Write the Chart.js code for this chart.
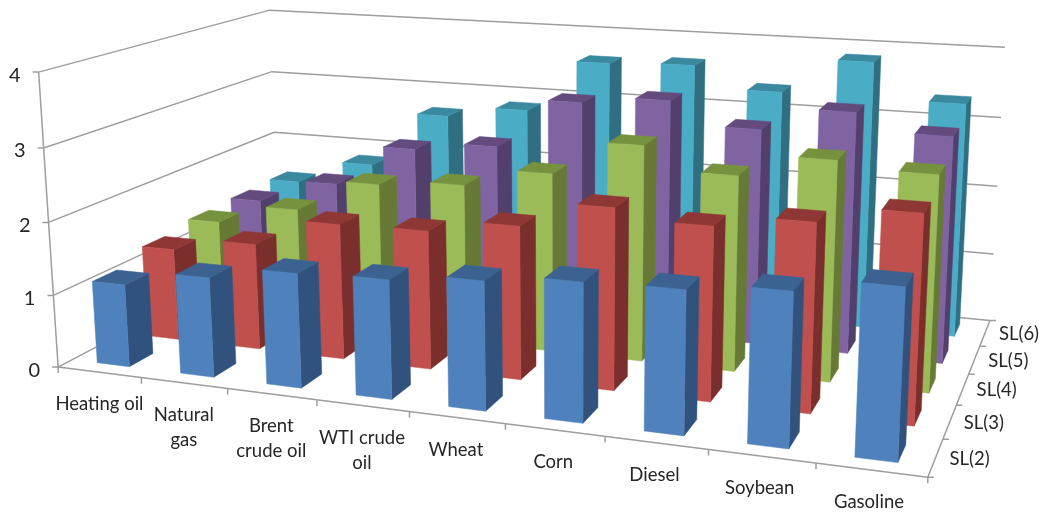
<!DOCTYPE html>
<html>
<head>
<meta charset="utf-8">
<style>html,body{margin:0;padding:0;background:#fff}canvas{display:block}</style>
<script src="https://cdn.jsdelivr.net/npm/chart.js@4/dist/chart.umd.js"></script>
</head>
<body>
<canvas id="c" width="1046" height="515"></canvas>
<script>
// Shortfall levels by commodity
const categories = ["Heating oil", ["Natural", "gas"], ["Brent", "crude oil"], ["WTI crude", "oil"], "Wheat", "Corn", "Diesel", "Soybean", "Gasoline"];
const seriesNames = ["SL(2)", "SL(3)", "SL(4)", "SL(5)", "SL(6)"];
const sl2 = [1.14, 1.36, 1.54, 1.58, 1.69, 1.80, 1.83, 1.94, 2.12];
const sl3 = [1.30, 1.49, 1.88, 1.90, 2.08, 2.43, 2.30, 2.46, 2.68];
const sl4 = [1.39, 1.68, 2.15, 2.24, 2.50, 2.98, 2.67, 2.97, 2.88];
const sl5 = [1.42, 1.78, 2.40, 2.53, 3.25, 3.36, 3.04, 3.36, 3.12];
const sl6 = [1.44, 1.81, 2.66, 2.83, 3.61, 3.65, 3.34, 3.84, 3.33];
const seriesValues = [sl2, sl3, sl4, sl5, sl6];

// Front, side and top shades for each series
const shades = [
  ["#4F81BD", "#30527C", "#3B6291"],
  ["#C0504D", "#7B2F2D", "#8F3735"],
  ["#9BBB59", "#667A36", "#76923F"],
  ["#8064A2", "#533F6B", "#634B7E"],
  ["#4BACC6", "#306F82", "#3A899E"]
];

const BAR_WIDTH = 0.39, BAR_DEPTH = 0.47;
const LINE = "#9E9E9E", TEXT = "#262626", FONT = "Lato, Carlito, sans-serif";

// Reference points of the plot box: [category, series, value] -> [x, y]
const boxAnchors = [
  [[0,0,0],[59,366]], [[9,0,0],[926,478]], [[9,5,0],[989,320]], [[0,5,0],[278,252]],
  [[0,0,4],[38,72]], [[0,5,4],[270,10]], [[9,5,4],[1006,48]],
  [[0,0,1],[53,294]], [[0,0,2],[49,222]], [[0,0,3],[44,148]],
  [[9,5,1],[992,254]], [[9,5,2],[996,187]], [[9,5,3],[1001,118]],
  [[0,5,2],[274,132]], [[0,5,3],[272,71]],
  [[1,0,0],[142,378]], [[2,0,0],[228,390]], [[3,0,0],[316,402]], [[8,0,0],[813,463]],
  [[9,1,0],[944,439]], [[9,2,0],[959,405]], [[9,3,0],[971,373]], [[9,4,0],[981,345]]
];

// Least-squares perspective camera through the box reference points
function solveCamera(anchors) {
  const n = 11, A = Array.from({length: n}, () => new Array(n + 1).fill(0));
  const add = (row, rhs) => {
    for (let i = 0; i < n; i++) {
      for (let j = 0; j < n; j++) A[i][j] += row[i] * row[j];
      A[i][n] += row[i] * rhs;
    }
  };
  for (const [[u, v, w], [x, y]] of anchors) {
    const X = u / 9, Y = v / 5, Z = w / 4, px = x / 1000, py = y / 1000;
    add([X, Y, Z, 1, 0, 0, 0, 0, -px * X, -px * Y, -px * Z], px);
    add([0, 0, 0, 0, X, Y, Z, 1, -py * X, -py * Y, -py * Z], py);
  }
  for (let c = 0; c < n; c++) {
    let p = c;
    for (let r = c + 1; r < n; r++) if (Math.abs(A[r][c]) > Math.abs(A[p][c])) p = r;
    [A[c], A[p]] = [A[p], A[c]];
    for (let r = 0; r < n; r++) {
      if (r === c) continue;
      const f = A[r][c] / A[c][c];
      for (let k = c; k <= n; k++) A[r][k] -= f * A[c][k];
    }
  }
  return A.map((row, i) => row[n] / row[i]);
}
const cam = solveCamera(boxAnchors);
function project(u, v, w) {
  const X = u / 9, Y = v / 5, Z = w / 4;
  const d = cam[8] * X + cam[9] * Y + cam[10] * Z + 1;
  return [1000 * (cam[0] * X + cam[1] * Y + cam[2] * Z + cam[3]) / d,
          1000 * (cam[4] * X + cam[5] * Y + cam[6] * Z + cam[7]) / d];
}

// One column: three visible faces, already projected
class Column3D extends Chart.Element {
  static id = "column3d";
  static defaults = {};
  draw(ctx) {
    const faces = [[this.side, this.colors[1]], [this.top, this.colors[2]], [this.front, this.colors[0]]];
    for (const [pts, color] of faces) {
      ctx.beginPath();
      pts.forEach((p, i) => i ? ctx.lineTo(p[0], p[1]) : ctx.moveTo(p[0], p[1]));
      ctx.closePath();
      ctx.fillStyle = color;
      ctx.strokeStyle = color;
      ctx.lineWidth = 0.5;
      ctx.fill();
      ctx.stroke();
    }
  }
}

// Maps category / series / value scales onto the box and builds the columns
class Bar3DController extends Chart.DatasetController {
  static id = "bar3d";
  static defaults = {dataElementType: "column3d", datasetElementType: null};
  update(mode) {
    const meta = this._cachedMeta;
    this.updateElements(meta.data, 0, meta.data.length, mode);
  }
  updateElements(columns, start, count, mode) {
    const meta = this._cachedMeta, xs = meta.iScale, ys = meta.vScale, zs = this.chart.scales.series;
    const n = xs.getLabels().length, m = zs.getLabels().length;
    const v = (zs.getPixelForValue(this.index) - zs.left) / zs.width * m;
    const v0 = v - BAR_DEPTH / 2, v1 = v + BAR_DEPTH / 2;
    for (let i = start; i < start + count; i++) {
      const parsed = this.getParsed(i);
      const u = (xs.getPixelForValue(parsed.x) - xs.left) / xs.width * n;
      const w = (ys.bottom - ys.getPixelForValue(parsed.y)) / ys.height * ys.max;
      const u0 = u - BAR_WIDTH / 2, u1 = u + BAR_WIDTH / 2;
      this.updateElement(columns[i], i, {
        x: project(u, v0, w)[0],
        y: project(u, v0, w)[1],
        colors: shades[this.index],
        front: [project(u0, v0, 0), project(u1, v0, 0), project(u1, v0, w), project(u0, v0, w)],
        side: [project(u1, v0, 0), project(u1, v1, 0), project(u1, v1, w), project(u1, v0, w)],
        top: [project(u0, v0, w), project(u1, v0, w), project(u1, v1, w), project(u0, v1, w)]
      }, mode);
    }
  }
}
Chart.register(Column3D, Bar3DController);

function segment(ctx, a, b) {
  ctx.moveTo(a[0], a[1]);
  ctx.lineTo(b[0], b[1]);
}

// Walls, floor edges, ticks and all axis text
const boxFrame = {
  id: "boxFrame",
  beforeDatasetsDraw(chart) {
    const ctx = chart.ctx, nu = chart.scales.x.getLabels().length, nv = chart.scales.series.getLabels().length;
    ctx.save();
    ctx.strokeStyle = LINE;
    ctx.lineWidth = 1.5;
    ctx.beginPath();
    for (const tick of chart.scales.y.ticks) {
      const a = project(0, 0, tick.value), b = project(0, nv, tick.value), c = project(nu, nv, tick.value);
      segment(ctx, a, b);
      segment(ctx, b, c);
      segment(ctx, a, [a[0] - 6, a[1]]);
    }
    segment(ctx, project(0, 0, 0), project(0, 0, chart.scales.y.max));
    segment(ctx, project(0, 0, 0), project(nu, 0, 0));
    segment(ctx, project(nu, 0, 0), project(nu, nv, 0));
    for (let i = 0; i <= nu; i++) {
      const p = project(i, 0, 0);
      segment(ctx, p, [p[0], p[1] + 6]);
    }
    for (let i = 0; i <= nv; i++) {
      const p = project(nu, i, 0);
      segment(ctx, p, [p[0] + 6, p[1]]);
    }
    ctx.stroke();
    ctx.restore();
  },
  afterDatasetsDraw(chart) {
    const ctx = chart.ctx, xLabels = chart.scales.x.getLabels(), zLabels = chart.scales.series.getLabels();
    const nu = xLabels.length;
    ctx.save();
    ctx.fillStyle = TEXT;
    ctx.textBaseline = "middle";
    ctx.textAlign = "center";
    ctx.font = "18.5px " + FONT;
    xLabels.forEach((label, i) => {
      const p = project(i + 0.5, 0, 0);
      const lines = Array.isArray(label) ? label : [label];
      lines.forEach((text, k) => ctx.fillText(text, p[0] - 0.3 * i, p[1] + 32 + k * 25));
    });
    zLabels.forEach((label, i) => {
      const p = project(nu, i + 0.5, 0);
      ctx.fillText(label, p[0] + 34, p[1] + 1);
    });
    ctx.textAlign = "right";
    ctx.font = "20px " + FONT;
    for (const tick of chart.scales.y.ticks) {
      const p = project(0, 0, tick.value);
      ctx.fillText(tick.label, p[0] - 18, p[1] + 3);
    }
    ctx.restore();
  }
};

new Chart(document.getElementById("c"), {
  type: "bar3d",
  data: {
    labels: categories,
    datasets: seriesValues.map((data, i) => ({label: seriesNames[i], data}))
  },
  options: {
    responsive: false,
    animation: false,
    layout: {padding: 0},
    plugins: {legend: {display: false}, tooltip: {enabled: false}},
    scales: {
      x: {type: "category", offset: true, display: false},
      y: {type: "linear", min: 0, max: 4, display: false, ticks: {stepSize: 1}},
      series: {type: "category", axis: "x", labels: seriesNames, offset: true, display: false}
    }
  },
  plugins: [boxFrame]
});
</script>
</body>
</html>
